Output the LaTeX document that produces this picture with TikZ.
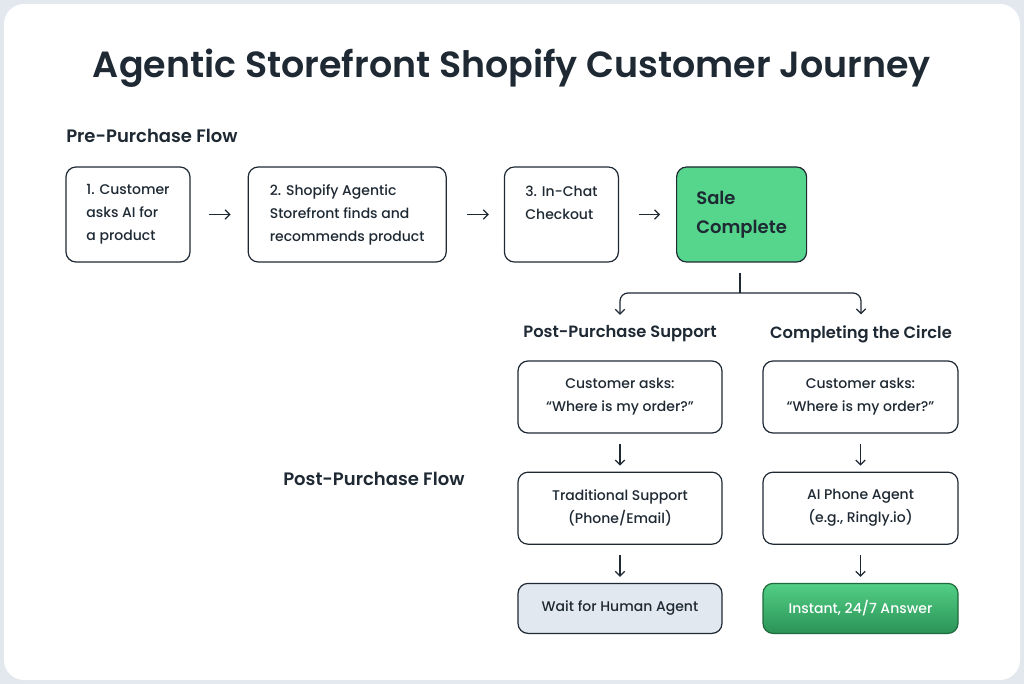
\documentclass[tikz,border=0pt]{standalone}
\usepackage{fontspec}
\setmainfont{Poppins Medium}[BoldFont={Poppins SemiBold}]
\usetikzlibrary{arrows.meta, positioning}

\definecolor{ink}{HTML}{1E2933}
\definecolor{frame}{HTML}{E3E8EE}
\definecolor{salegreen}{HTML}{55D68C}
\definecolor{waitgrey}{HTML}{E2E8F0}
\definecolor{greentop}{HTML}{52CF86}
\definecolor{greenbot}{HTML}{2B9356}
\definecolor{greenline}{HTML}{1F6B3D}

\begin{document}
\begin{tikzpicture}[
    x=0.75pt, y=-0.75pt, node distance=42.75pt,
    flowbox/.style={draw=ink, line width=0.9pt, rounded corners=7.5pt, fill=white,
      text=ink, minimum height=71.25pt, align=left,
      font=\fontsize{10.5}{17.25}\selectfont},
    postbox/.style={draw=ink, line width=0.9pt, rounded corners=7.5pt, fill=white,
      text=ink, minimum height=54pt, align=center,
      font=\fontsize{10.5}{17.25}\selectfont},
    heading/.style={text=ink, inner sep=0pt, font=\bfseries\fontsize{13.5}{16}\selectfont},
    flowarrow/.style={-{Straight Barb[length=3.5pt,width=7pt]}, draw=ink, line width=0.9pt}]

    % Card
    \fill[frame] (0,0) rectangle (1024,684);
    \fill[white, rounded corners=15pt] (4,4) rectangle (1020,680);
    \useasboundingbox (0,0) rectangle (1024,684);

    % Titles
    \node[text=ink, font=\bfseries\fontsize{27.3}{32}\selectfont] (title) at (512,68)
        {Agentic Storefront Shopify Customer Journey};
    \node[heading, anchor=west] (prehead) at (66,136) {Pre-Purchase Flow};
    \node[heading, anchor=west] (posthead) at (283,479) {Post-Purchase Flow};

    % Pre-purchase steps
    \node[flowbox, minimum width=93pt] (ask) at (128,214.5)
        {1. Customer\\asks AI for\\a product};
    \node[flowbox, minimum width=148.5pt] (find) [right=of ask]
        {2. Shopify Agentic\\Storefront finds and\\recommends product};
    \node[flowbox, minimum width=85.5pt] (checkout) [right=of find]
        {3. In-Chat\\Checkout\\\mbox{}};
    \node[flowbox, minimum width=97.5pt, fill=salegreen,
        font=\bfseries\fontsize{13.5}{21.75}\selectfont] (sale) [right=of checkout]
        {Sale\\Complete};

    \draw[flowarrow, shorten <=13.5pt, shorten >=12.75pt] (ask) -- (find);
    \draw[flowarrow, shorten <=15pt, shorten >=11.25pt] (find) -- (checkout);
    \draw[flowarrow, shorten <=15pt, shorten >=12pt] (checkout) -- (sale);

    % Split after the sale
    \node[heading, font=\bfseries\fontsize{12.25}{15}\selectfont] (hsupport) at (620,334)
        {Post-Purchase Support};
    \node[heading, font=\bfseries\fontsize{12.25}{15}\selectfont] (hcircle) at (861,334)
        {Completing the Circle};
    \coordinate (fork) at (740,293);
    \draw[ink, line width=0.9pt, shorten <=7.5pt] (sale.south -| fork) -- (fork);
    \draw[flowarrow, rounded corners=6pt, shorten >=8pt] (fork) -| (hsupport.north);
    \draw[flowarrow, rounded corners=6pt, shorten >=8pt] (fork) -| (hcircle.north);

    % Post-purchase support
    \node[postbox, minimum width=153pt] (askA) at (620,397)
        {Customer asks:\\``Where is my order?''};
    \node[postbox, minimum width=153pt] (trad) [below=28.5pt of askA]
        {Traditional Support\\(Phone/Email)};
    \node[postbox, minimum width=153pt, minimum height=37.5pt, fill=waitgrey]
        (wait) [below=28.5pt of trad] {Wait for Human Agent};

    % Completing the circle
    \node[postbox, minimum width=146.25pt] (askB) at (860.5,397)
        {Customer asks:\\``Where is my order?''};
    \node[postbox, minimum width=146.25pt] (aiphone) [below=28.5pt of askB]
        {AI Phone Agent\\(e.g., Ringly.io)};
    \node[postbox, minimum width=146.25pt, minimum height=37.5pt, draw=greenline,
        top color=greentop, bottom color=greenbot, text=white]
        (instant) [below=28.5pt of aiphone] {Instant, 24/7 Answer};

    \draw[flowarrow, shorten <=7.5pt, shorten >=4.5pt] (askA) -- (trad);
    \draw[flowarrow, shorten <=7.5pt, shorten >=4.5pt] (trad) -- (wait);
    \draw[flowarrow, shorten <=7.5pt, shorten >=4.5pt] (askB) -- (aiphone);
    \draw[flowarrow, shorten <=7.5pt, shorten >=4.5pt] (aiphone) -- (instant);
\end{tikzpicture}
\end{document}
